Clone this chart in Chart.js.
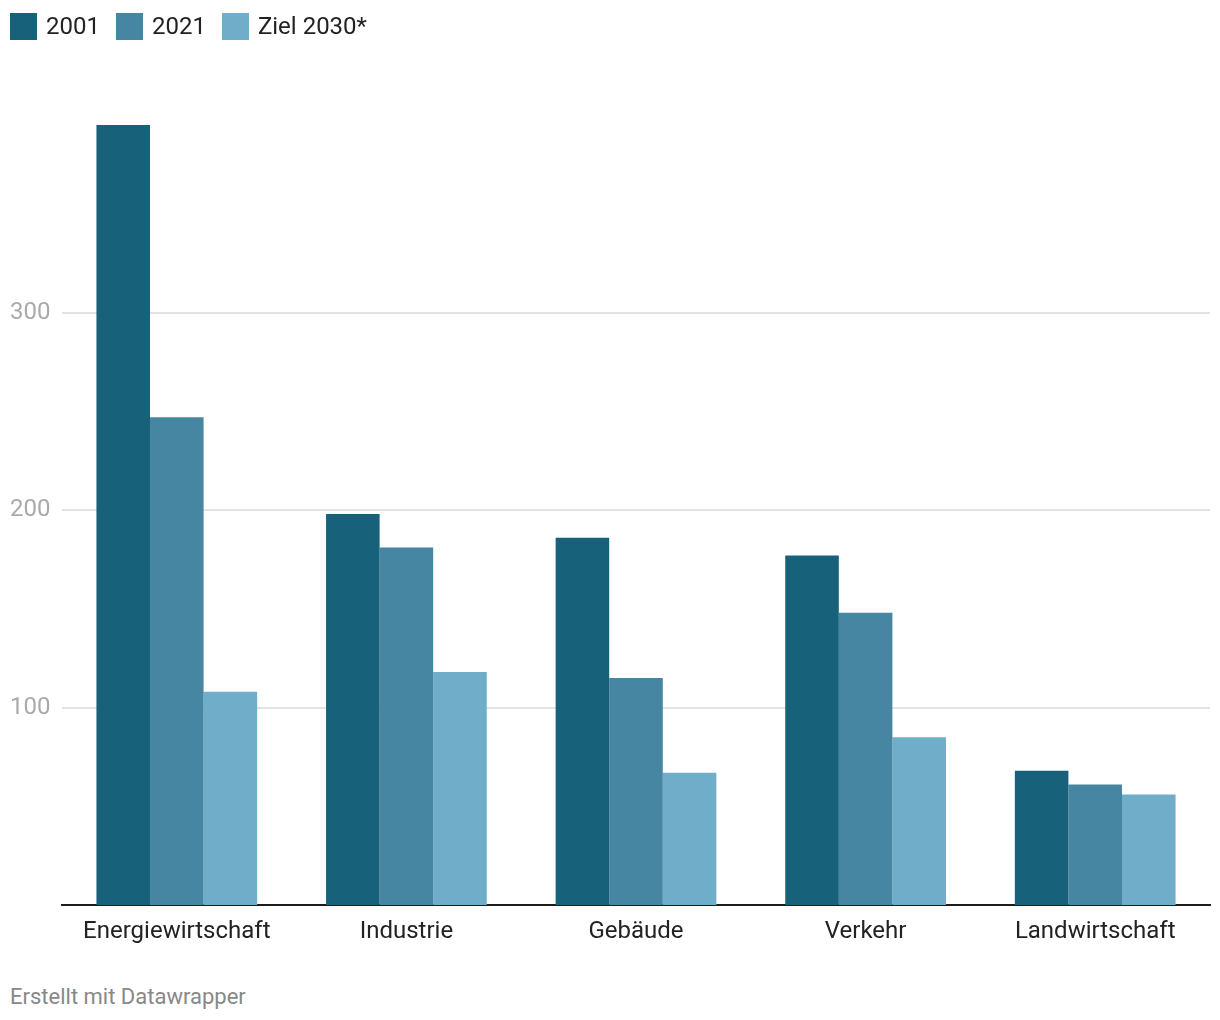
<!DOCTYPE html>
<html>
<head>
<meta charset="utf-8">
<script src="https://cdn.jsdelivr.net/npm/chart.js@4/dist/chart.umd.min.js"></script>
<style>
  html, body { margin: 0; padding: 0; background: #fff; }
  body { width: 1220px; height: 1020px; position: relative; overflow: hidden; font-family: Roboto, "Noto Sans", sans-serif; }
  #legend { position: absolute; left: 10px; top: 12px; display: flex; align-items: center; }
  .item { display: flex; align-items: center; margin-right: 16px; font-size: 24px; color: #222; }
  .box { width: 27px; height: 27px; margin-right: 9px; }
  #wrap { position: absolute; left: 0; top: 0; width: 1220px; height: 960px; }
  #footer { position: absolute; left: 10px; top: 984px; font-size: 22px; color: #888; }
</style>
</head>
<body>
<div id="wrap"><canvas id="c"></canvas></div>
<div id="legend"></div>
<div id="footer">Erstellt mit Datawrapper</div>
<script>
const categories = ["Energiewirtschaft", "Industrie", "Gebäude", "Verkehr", "Landwirtschaft"];
const seriesNames = ["2001", "2021", "Ziel 2030*"];
const values2001 = [395, 198, 186, 177, 68];
const values2021 = [247, 181, 115, 148, 61];
const valuesZiel = [108, 118, 67, 85, 56];
const yTicks = [100, 200, 300];
const colors = ["#18617a", "#4686a2", "#6fadc9"];

const seriesValues = [values2001, values2021, valuesZiel];

const legend = document.getElementById('legend');
seriesNames.forEach((n, i) => {
  const it = document.createElement('div');
  it.className = 'item';
  const b = document.createElement('div');
  b.className = 'box';
  b.style.background = colors[i];
  const t = document.createElement('span');
  t.textContent = n;
  it.appendChild(b); it.appendChild(t);
  legend.appendChild(it);
});

new Chart(document.getElementById('c'), {
  type: 'bar',
  data: {
    labels: categories,
    datasets: seriesNames.map((n, i) => ({
      label: n,
      data: seriesValues[i],
      backgroundColor: colors[i],
      borderWidth: 0,
      categoryPercentage: 0.7,
      barPercentage: 1.0
    }))
  },
  options: {
    responsive: true,
    maintainAspectRatio: false,
    animation: false,
    layout: { padding: { top: 115, left: 10, right: 10, bottom: 0 } },
    plugins: { legend: { display: false }, tooltip: { enabled: false } },
    scales: {
      x: {
        grid: { display: false, drawTicks: false },
        border: { display: true, color: '#1d1d1d', width: 2 },
        ticks: { color: '#222', font: { family: 'Roboto', size: 24 }, padding: 13, maxRotation: 0 },
        afterFit: (s) => { s.height = 55; }
      },
      y: {
        min: 0,
        max: 400,
        grid: { color: '#e3e3e3', lineWidth: 2, drawTicks: false },
        border: { display: false },
        ticks: {
          stepSize: 100,
          color: '#aaa',
          font: { family: 'Roboto', size: 24 },
          crossAlign: 'far',
          padding: 0
        },
        afterBuildTicks: (s) => { s.ticks = s.ticks.filter(t => yTicks.includes(t.value)); },
        afterFit: (s) => { s.width = 52; }
      }
    }
  }
});
</script>
</body>
</html>
